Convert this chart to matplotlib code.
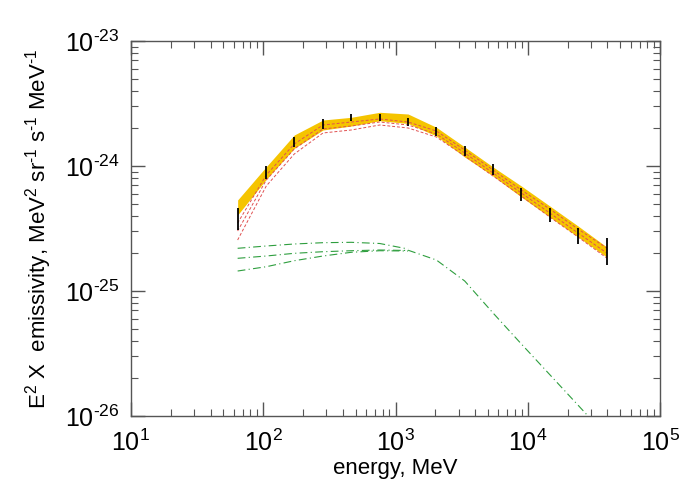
import numpy as np
import matplotlib
matplotlib.use('Agg')
import matplotlib.pyplot as plt
from matplotlib.ticker import FuncFormatter, NullFormatter

plt.rcParams['font.family'] = ['Liberation Sans', 'DejaVu Sans']
plt.rcParams['mathtext.fontset'] = 'custom'
plt.rcParams['mathtext.rm'] = 'Liberation Sans'
plt.rcParams['mathtext.it'] = 'Liberation Sans'
plt.rcParams['mathtext.default'] = 'regular'

# energy grid, MeV
energy = [64.1, 105.5, 171.7, 283, 463, 760, 1245, 2037, 3336, 5460,
          8935, 14650, 23990, 39500]

# yellow band (upper / lower)
band_hi = [5.35e-25, 9.87e-25, 1.770e-24, 2.333e-24, 2.452e-24, 2.689e-24, 2.606e-24,
           2.040e-24, 1.419e-24, 9.82e-25, 6.92e-25, 4.79e-25, 3.31e-25, 2.249e-25]
band_lo = [4.06e-25, 7.83e-25, 1.385e-24, 1.941e-24, 2.089e-24, 2.303e-24, 2.188e-24,
           1.738e-24, 1.180e-24, 8.32e-25, 5.65e-25, 3.91e-25, 2.704e-25, 1.871e-25]

# error bars (lower / upper ends)
err_lo = [3.08e-25, 7.87e-25, 1.427e-24, 1.988e-24, 2.278e-24, 2.303e-24, 2.089e-24,
          1.738e-24, 1.202e-24, 8.47e-25, 5.28e-25, 3.58e-25, 2.377e-25, 1.614e-25]
err_hi = [4.64e-25, 1.006e-24, 1.715e-24, 2.363e-24, 2.606e-24, 2.606e-24, 2.421e-24,
          2.040e-24, 1.445e-24, 1.038e-24, 6.67e-25, 4.61e-25, 3.19e-25, 2.655e-25]

# red dashed models
red_a = [3.50e-25, 8.47e-25, 1.500e-24, 2.128e-24, 2.249e-24, 2.377e-24, 2.249e-24,
         1.905e-24, 1.343e-24, 9.29e-25, 6.43e-25, 4.53e-25, 3.13e-25, 2.208e-25]
red_b = [3.02e-25, 7.73e-25, 1.368e-24, 1.977e-24, 2.089e-24, 2.249e-24, 2.128e-24,
         1.803e-24, 1.271e-24, 8.79e-25, 6.08e-25, 4.21e-25, 2.911e-25, 2.014e-25]
red_c = [2.559e-25, 6.92e-25, 1.247e-24, 1.837e-24, 1.941e-24, 2.128e-24, 2.014e-24,
         1.706e-24, 1.202e-24, 8.32e-25, 5.75e-25, 3.91e-25, 2.704e-25, 1.837e-25]

# green dash-dot models (low energy part) and common tail
green_a = [2.196e-25, 2.291e-25, 2.377e-25, 2.435e-25, 2.452e-25, 2.399e-25, 2.168e-25]
green_b = [1.826e-25, 1.905e-25, 2.002e-25, 2.062e-25, 2.100e-25, 2.128e-25, 2.109e-25]
green_c = [1.445e-25, 1.564e-25, 1.747e-25, 1.905e-25, 2.040e-25, 2.100e-25, 2.089e-25]
green_tail = [2.12e-25, 1.770e-25, 1.202e-25, 6.67e-26, 3.77e-26, 2.144e-26,
              1.220e-26, 6.88e-27]

x_ticks = [1e1, 1e2, 1e3, 1e4, 1e5]
y_ticks = [1e-26, 1e-25, 1e-24, 1e-23]

fig = plt.figure(figsize=(7, 5), dpi=100)
ax = fig.add_axes([0.187, 0.168, 0.756, 0.750])

ax.fill_between(energy, band_lo, band_hi, color='#f5c400', lw=0, zorder=2)

for r in (red_a, red_b, red_c):
    ax.plot(energy, r, color='#e05050', ls=(0, (3, 2)), lw=0.7, zorder=3)

n = len(green_a)
for g in (green_a, green_b, green_c):
    ax.plot(energy[:n], g, color='#2e9e3e', ls=(0, (7, 3, 1, 3)), lw=0.8, zorder=3)
ax.plot(energy[n - 1:], green_tail, color='#2e9e3e', ls=(0, (7, 3, 1, 3)), lw=0.8,
        zorder=3)

ax.vlines(energy, err_lo, err_hi, color='black', lw=1.3, zorder=4)

ax.set_xscale('log')
ax.set_yscale('log')
ax.set_xticks(x_ticks)
ax.set_yticks(y_ticks)
ax.set_xlim(10, 1e5)
ax.set_ylim(1e-26, 1e-23)


def pow_label(v, pos):
    e = int(round(np.log10(v)))
    if e < 0:
        return r'$10^{\text{-}%d}$' % (-e)
    return r'$10^{%d}$' % e


ax.xaxis.set_major_formatter(FuncFormatter(pow_label))
ax.yaxis.set_major_formatter(FuncFormatter(pow_label))
ax.xaxis.set_minor_formatter(NullFormatter())
ax.yaxis.set_minor_formatter(NullFormatter())

for s in ax.spines.values():
    s.set_color('#555555')
    s.set_linewidth(1.0)
ax.tick_params(which='both', direction='in', top=True, right=True,
               color='#555555', labelsize=18)
ax.tick_params(axis='x', pad=10)
ax.tick_params(axis='y', pad=8)
ax.tick_params(which='major', length=10, width=1.0)
ax.tick_params(which='minor', length=5, width=0.8)

ax.set_xlabel('energy, MeV', fontsize=16, labelpad=1)
ax.set_ylabel(r'E$^2$ X  emissivity, MeV$^2$ sr$^{\text{-}1}$ s$^{\text{-}1}$ MeV$^{\text{-}1}$',
              fontsize=16, labelpad=8)

plt.savefig('out.png', dpi=100)
plt.close()
